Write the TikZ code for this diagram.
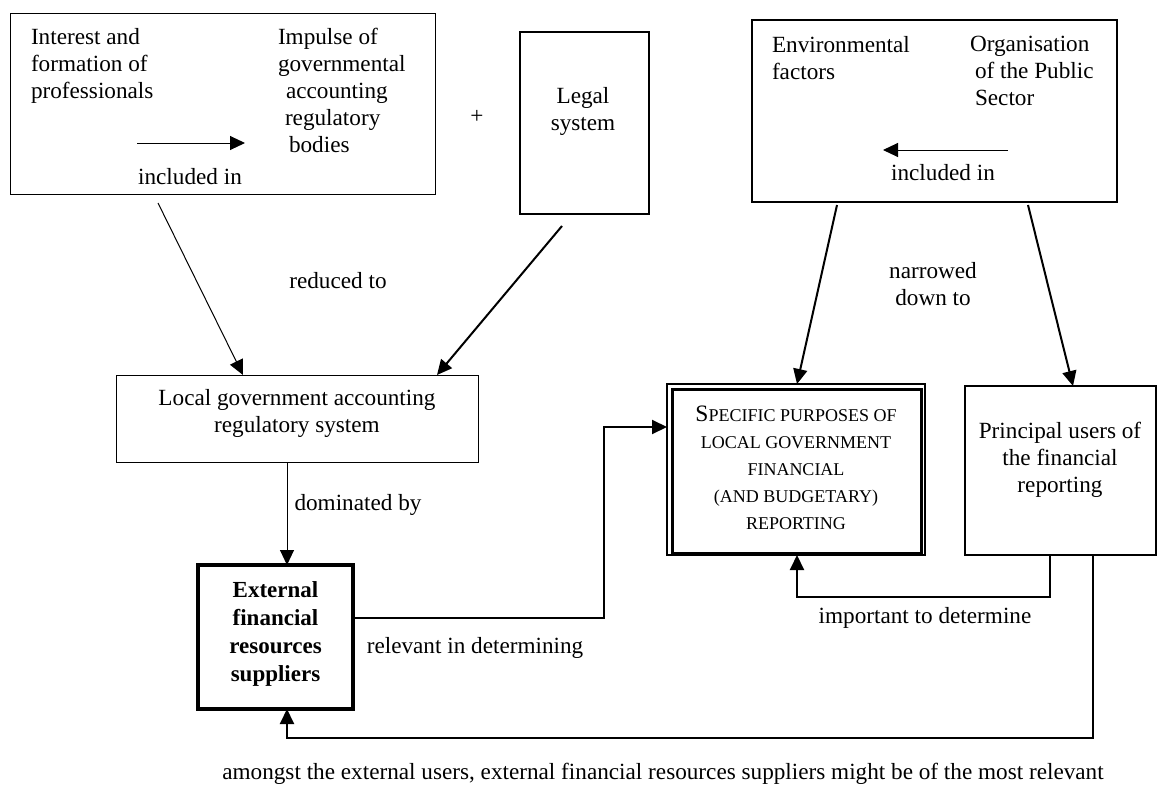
\documentclass[tikz,border=0pt]{standalone}
\usepackage{fontspec}
\setmainfont{Liberation Serif}
\usetikzlibrary{arrows.meta}
\newcommand{\bigS}{\fontsize{23.5}{27}\selectfont}
\newcommand{\smS}{\fontsize{18}{27}\selectfont}
\begin{document}
\begin{tikzpicture}[x=1pt,y=-1pt,
  every node/.style={font=\fontsize{23.2}{27}\selectfont, inner sep=0pt, outer sep=0pt},
  txt/.style={align=center},
  ltxt/.style={align=left, anchor=north west},
  boxa/.style={draw, line width=1pt, anchor=north west},
  thin/.style={line width=1pt, -{Triangle[length=15pt,width=14pt]}},
  thick/.style={line width=2pt, -{Triangle[length=15pt,width=14pt]}}]
\useasboundingbox (0,0) rectangle (1168,787);
\fill[white] (0,0) rectangle (1168,787);

% boxes
\node[boxa, minimum width=425pt, minimum height=181pt] (tl) at (10,13) {};
\node[boxa, line width=2pt, minimum width=129pt, minimum height=182pt] (legal) at (520,32) {};
\node[boxa, line width=1.2pt, minimum width=365pt, minimum height=182pt] (tr) at (752,20) {};
\node[boxa, minimum width=362pt, minimum height=87pt] (local) at (116,375) {};
\node[boxa, line width=4pt, minimum width=155pt, minimum height=144pt] (ext) at (198,565) {};
\node[boxa, line width=1.2pt, minimum width=258pt, minimum height=171pt] (spec) at (667,384) {};
\draw[line width=3pt] ([shift={(5pt,-5pt)}]spec.north west) rectangle ([shift={(-4pt,2pt)}]spec.south east);
\node[boxa, line width=1.5pt, minimum width=191pt, minimum height=169pt] (princ) at (965,386) {};

% texts inside top-left box
\node[ltxt] (tla) at (31,28) {Interest and\\formation of\\professionals};
\node[ltxt] (tlb) at (278,28) {Impulse of\\governmental\\\hspace*{8pt}accounting\\\hspace*{7pt}regulatory\\\hspace*{11pt}bodies};
\coordinate (tlas) at (137,143);
\coordinate (tlae) at (245,143);
\draw[thin] (tlas) -- (tlae);
\node (tlinc) at (190,177) {included in};

\node (plus) at (477,117) {+};
\node[txt] (legaltxt) at (583,111) {Legal\\system};

% top-right box
\node[ltxt] (tra) at (772,36) {Environmental\\factors};
\node[ltxt] (trb) at (970,36) {Organisation\\\hspace*{5pt}of the Public\\\hspace*{5pt}Sector};
\coordinate (tras) at (1008,150);
\coordinate (trae) at (883,150);
\draw[thin] (tras) -- (trae);
\node (trinc) at (943,173) {included in};

\node[txt] (localtxt) at (297,413) {Local government accounting\\regulatory system};
\node[txt, font=\fontsize{23}{28}\selectfont\bfseries] (exttxt) at (275.5,634) {External\\financial\\resources\\suppliers};
\node[txt] (spectxt) at (796,468) {{\bigS S}{\smS PECIFIC PURPOSES OF}\\{\smS LOCAL GOVERNMENT}\\{\smS FINANCIAL}\\{\smS (AND BUDGETARY)}\\{\smS REPORTING}};
\node[txt] (princtxt) at (1060,460) {Principal users of\\the financial\\reporting};

% labels
\node (reduced) at (338,281) {reduced to};
\node[txt] (narrowed) at (933,284) {narrowed\\down to};
\node (dominated) at (358,505) {dominated by};
\node (relevant) at (475,648) {relevant in determining};
\node (important) at (925,618) {important to determine};
\node (bottom) at (663,774) {amongst the external users, external financial resources suppliers might be of the most relevant};

% connectors
\draw[thin] ([xshift=148pt,yshift=-9pt]tl.south west) -- ([xshift=127pt]local.north west);
\draw[thick] ([xshift=42pt,yshift=-12pt]legal.south west) -- ([xshift=321pt]local.north west);
\draw[thick] ([xshift=85pt,yshift=-3pt]tr.south west) -- ([xshift=130pt]spec.north west);
\draw[thick] ([xshift=276pt,yshift=-3pt]tr.south west) -- ([xshift=108pt]princ.north west);
\draw[thin] ([xshift=171pt]local.south west) -- ([xshift=89pt]ext.north west);
\draw[thick] ([yshift=19pt]ext.east) -| ([xshift=-63pt,yshift=42.5pt]spec.west) -- ([yshift=42.5pt]spec.west);
\draw[thick] ([xshift=85pt]princ.south west) -- ++(0,42) -| ([xshift=130pt]spec.south west);
\draw[thick] ([xshift=128pt]princ.south west) -- ++(0,183) -| ([xshift=89pt]ext.south west);
\end{tikzpicture}
\end{document}
